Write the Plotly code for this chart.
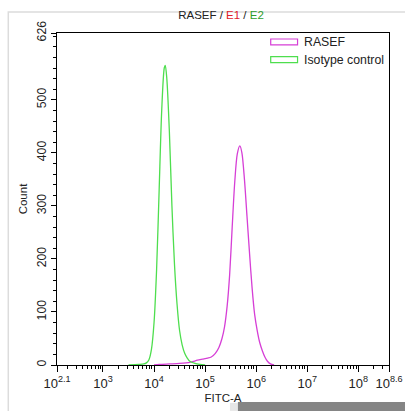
import plotly.graph_objects as go

# ---- data (log10 of FITC-A, counts) ----
iso_log = [3.50, 3.70, 3.80, 3.85, 3.90, 3.95, 4.00, 4.05, 4.10, 4.15, 4.20, 4.22,
           4.25, 4.30, 4.35, 4.40, 4.45, 4.50, 4.55, 4.60, 4.65, 4.70, 4.80, 4.90, 5.00]
iso_cnt = [0, 1, 2, 4, 10, 30, 80, 180, 330, 480, 560, 565,
           540, 440, 300, 190, 115, 65, 38, 22, 13, 7, 3, 1, 0]

rasef_log = [4.00, 4.10, 4.30, 4.50, 4.70, 4.85, 4.95, 5.05, 5.12, 5.20, 5.27, 5.33,
             5.38, 5.43, 5.48, 5.53, 5.58, 5.63, 5.68, 5.72, 5.77, 5.82, 5.87, 5.92,
             5.97, 6.02, 6.07, 6.12, 6.17, 6.22, 6.28, 6.35]
rasef_cnt = [0, 1, 2, 3, 5, 9, 11, 13, 15, 22, 33, 50,
             72, 110, 170, 260, 345, 398, 413, 400, 350, 280, 210, 145,
             95, 65, 42, 27, 15, 7, 2, 0]

x_tick_exp = ["2.1", "3", "4", "5", "6", "7", "8", "8.6"]
y_ticks = [0, 100, 200, 300, 400, 500, 626]

series_names = ["RASEF", "Isotype control"]
series_colors = ["#d63fd6", "#4ede4e"]

# ---- layout geometry (reference pixel coords; page scale KX, KY) ----
KX = 415 / 405
KY = 415 / 411
RW, RH = 405, 411
RL, RR, RT, RB = 56, 15, 33, 45
pw, ph = RW - RL - RR, RH - RT - RB

def px(x):
    return (x - RL) / pw

def py(y):
    return (RH - RB - y) / ph

FONT = "Liberation Sans, Arial, sans-serif"
FS = 11

fig = go.Figure()
fig.add_trace(go.Scatter(x=[10 ** v for v in rasef_log], y=rasef_cnt, mode="lines",
                         line=dict(color=series_colors[0], width=1.3, shape="spline", smoothing=0.8),
                         name=series_names[0], showlegend=False))
fig.add_trace(go.Scatter(x=[10 ** v for v in iso_log], y=iso_cnt, mode="lines",
                         line=dict(color=series_colors[1], width=1.3, shape="spline", smoothing=0.8),
                         name=series_names[1], showlegend=False))

xt_vals = [10 ** float(e) for e in x_tick_exp]
xt_text = ["10<sup>%s</sup>" % e for e in x_tick_exp]
minor_vals = []
for d in range(2, 9):
    for k in range(2, 10):
        v = k * 10 ** d
        if 10 ** 2.1 < v < 10 ** 8.6:
            minor_vals.append(v)

fig.update_layout(
    width=round(RW * KX), height=round(RH * KY),
    margin=dict(l=RL * KX, r=RR * KX, t=RT * KY, b=RB * KY, pad=0),
    paper_bgcolor="white", plot_bgcolor="white",
    font=dict(family=FONT, size=FS, color="#222222"),
    title=dict(text="RASEF / <span style='color:#e0202a'>E1</span> / <span style='color:#2e9e2e'>E2</span>",
               x=px(221), xref="paper", xanchor="center", y=1 - 15 / RH, yanchor="middle",
               font=dict(family=FONT, size=11.5, color="#222222")),
    xaxis=dict(type="log", range=[2.1, 8.6], tickmode="array", tickvals=xt_vals, ticktext=xt_text,
               ticks="outside", ticklen=6, tickcolor="black", showline=True, linecolor="black",
               linewidth=1, mirror=True, showgrid=False, zeroline=False,
               tickfont=dict(family=FONT, size=13, color="#222222"),
               minor=dict(tickmode="array", tickvals=minor_vals, ticks="outside", ticklen=3,
                          tickcolor="black", showgrid=False),
               title=dict(text="FITC-A", standoff=4,
                          font=dict(family=FONT, size=11.5, color="#222222"))),
    yaxis=dict(range=[0, 626], tickmode="array", tickvals=y_ticks, ticktext=[str(v) for v in y_ticks],
               ticks="outside", ticklen=5, tickcolor="black", showline=True, linecolor="black",
               linewidth=1, mirror=True, showgrid=False, zeroline=False, tickangle=-90,
               tickfont=dict(family=FONT, size=12.3, color="#222222"),
               minor=dict(dtick=20, ticks="outside", ticklen=3, tickcolor="black", showgrid=False),
               title=dict(text="Count", standoff=5,
                          font=dict(family=FONT, size=11.5, color="#222222"))),
)

shapes = []
# outer light gray panel border
shapes.append(dict(type="rect", xref="paper", yref="paper", x0=px(7), x1=px(420), y0=py(430), y1=py(12),
                   line=dict(color="#dcdcdc", width=1.5), fillcolor="rgba(0,0,0,0)", layer="below"))
# custom legend symbols
leg_y = [42, 59.7]
for c, yc in zip(series_colors, leg_y):
    shapes.append(dict(type="rect", xref="paper", yref="paper", x0=px(271), x1=px(298),
                       y0=py(yc + 3), y1=py(yc - 3), line=dict(color=c, width=1.2),
                       fillcolor="white"))
# grey overlay bar at the bottom right
shapes.append(dict(type="rect", xref="paper", yref="paper", x0=px(230), x1=px(238), y0=py(412), y1=py(404),
                   line=dict(width=0), fillcolor="#e6e6e6"))
shapes.append(dict(type="rect", xref="paper", yref="paper", x0=px(238), x1=px(412), y0=py(413), y1=py(403),
                   line=dict(width=0), fillcolor="#858585"))
fig.update_layout(shapes=shapes)

annotations = []
for name, yc in zip(series_names, leg_y):
    annotations.append(dict(text=name, xref="paper", yref="paper", x=px(302), y=py(yc),
                            xanchor="left", yanchor="middle", showarrow=False,
                            font=dict(family=FONT, size=12.3, color="#222222")))
fig.update_layout(annotations=annotations)

fig.write_html("out.html", config={"displayModeBar": False},
               post_script="document.body.style.margin='0';document.body.style.overflow='hidden';")
